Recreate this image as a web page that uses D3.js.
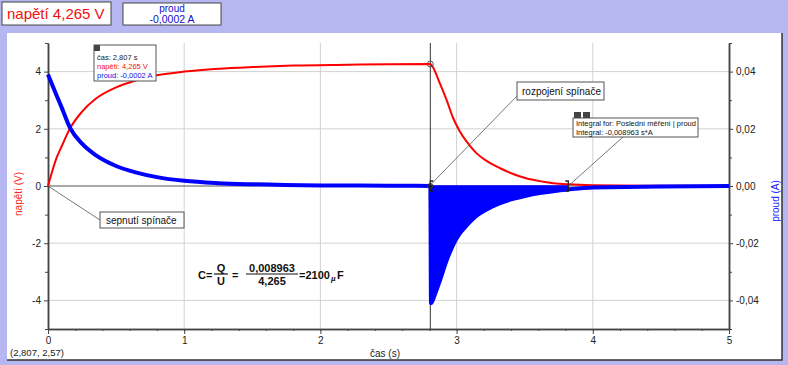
<!DOCTYPE html>
<html>
<head>
<meta charset="utf-8">
<script src="https://cdn.jsdelivr.net/npm/d3@7"></script>
<style>
body { margin:0; background:#b6b6f0; }
svg { display:block; font-family:"Liberation Sans", Arial, sans-serif; }
</style>
</head>
<body>
<div id="viz"></div>
<script>
// napeti (V) pri nabijeni a vybijeni
var tCharge = [0, 0.03, 0.06, 0.1, 0.16, 0.25, 0.35, 0.5, 0.65, 0.8, 1.0, 1.25, 1.5, 1.8, 2.2, 2.5, 2.807];
var uCharge = [0, 0.5, 0.95, 1.38, 2.0, 2.6, 3.05, 3.45, 3.7, 3.87, 4.0, 4.1, 4.16, 4.21, 4.24, 4.26, 4.265];
var tDischarge = [2.807, 2.82, 2.878, 2.927, 2.976, 3.025, 3.074, 3.147, 3.22, 3.32, 3.415, 3.51, 3.61, 3.71, 3.82, 4.0, 4.5, 5.0];
var uDischarge = [4.265, 4.2, 3.58, 3.0, 2.36, 1.9, 1.55, 1.14, 0.88, 0.62, 0.42, 0.27, 0.17, 0.1, 0.06, 0.03, 0.01, 0.0];

// proud (A)
var tCurA = [0, 0.03, 0.06, 0.1, 0.16, 0.25, 0.35, 0.5, 0.65, 0.8, 1.0, 1.25, 1.5, 2.0, 2.5, 2.807];
var iCurA = [0.039, 0.0355, 0.032, 0.0275, 0.0205, 0.0148, 0.0108, 0.007, 0.0047, 0.0031, 0.0018, 0.001, 0.0006, 0.0002, 0.0001, 0];
var tCurB = [2.807, 2.812, 2.84, 2.878, 2.927, 2.976, 3.025, 3.074, 3.147, 3.22, 3.32, 3.415, 3.51, 3.61, 3.71, 3.82, 4.0, 4.5, 5.0];
var iCurB = [0, -0.041, -0.038, -0.033, -0.026, -0.0205, -0.0165, -0.0138, -0.0104, -0.0082, -0.006, -0.0045, -0.0034, -0.0025, -0.0018, -0.0012, -0.0005, -0.0002, 0];

var xTicks = [0, 1, 2, 3, 4, 5];
var uTicks = [-4, -2, 0, 2, 4];
var iTicks = [-0.04, -0.02, 0, 0.02, 0.04];
var cursorT = 2.807, integralEnd = 3.82;

var width = 788, height = 365;
var svg = d3.select("#viz").append("svg").attr("width", width).attr("height", height);

// hlavicka
svg.append("rect").attr("x",2).attr("y",2).attr("width",109).attr("height",23).attr("fill","#fff").attr("stroke","#444");
svg.append("text").attr("x",7).attr("y",19).attr("fill","#f01010").style("font-size","15px").text("napětí 4,265 V");
svg.append("rect").attr("x",123).attr("y",3).attr("width",98).attr("height",22).attr("fill","#fff").attr("stroke","#444");
svg.append("text").attr("x",172).attr("y",12).attr("text-anchor","middle").attr("fill","#1010d0").style("font-size","10px").text("proud");
svg.append("text").attr("x",172).attr("y",23).attr("text-anchor","middle").attr("fill","#1010d0").style("font-size","10.5px").text("-0,0002 A");

// panel
svg.append("rect").attr("x",7).attr("y",33).attr("width",775).attr("height",327).attr("fill","#fff");
svg.append("path").attr("d","M782,33V360H7").attr("fill","none").attr("stroke","#333").attr("stroke-width",1.5);

var x = d3.scaleLinear().domain([0,5]).range([48,729]);
var yU = d3.scaleLinear().domain([-5,5]).range([329,43]);
var yI = d3.scaleLinear().domain([-0.05,0.05]).range([329,43]);

// mrizka
svg.selectAll("line.vgrid").data([1,2,3,4]).enter().append("line")
	.attr("x1",d=>x(d)).attr("x2",d=>x(d)).attr("y1",43).attr("y2",329)
	.attr("stroke","#d2d2d2");
svg.selectAll("line.hgrid").data([-4,-2,2,4]).enter().append("line")
	.attr("x1",48).attr("x2",729).attr("y1",d=>yU(d)).attr("y2",d=>yU(d))
	.attr("stroke","#d2d2d2");

// osy
var fmtI = d=>d.toFixed(2).replace(".",",");
svg.append("g").attr("transform","translate(0,329)")
	.call(d3.axisBottom(x).tickValues(d3.range(0,5.01,0.2)).tickSize(2).tickSizeOuter(0).tickFormat(""));
svg.append("g").attr("transform","translate(0,329)")
	.call(d3.axisBottom(x).tickValues(xTicks).tickSize(5).tickSizeOuter(0).tickFormat(d=>String(d)));
svg.append("g").attr("transform","translate(48,0)")
	.call(d3.axisLeft(yU).tickValues([-5,-3,-1,1,3,5]).tickSize(3).tickSizeOuter(0).tickFormat(""));
svg.append("g").attr("transform","translate(48,0)")
	.call(d3.axisLeft(yU).tickValues(uTicks).tickSize(4).tickSizeOuter(0).tickFormat(d=>String(d)));
svg.append("g").attr("transform","translate(729,0)")
	.call(d3.axisRight(yI).tickValues([-0.05,-0.03,-0.01,0.01,0.03,0.05]).tickSize(3).tickSizeOuter(0).tickFormat(""));
svg.append("g").attr("transform","translate(729,0)")
	.call(d3.axisRight(yI).tickValues(iTicks).tickSize(4).tickSizeOuter(0).tickFormat(fmtI));
svg.selectAll(".domain").attr("stroke","#444").attr("stroke-width",1.5);
svg.selectAll(".tick line").attr("stroke","#444");
svg.selectAll(".tick text").attr("fill","#222").style("font-size","10px").style("font-family","'Liberation Sans', Arial, sans-serif");

// nulova cara a kurzor
svg.append("line").attr("x1",48).attr("x2",729).attr("y1",yU(0)).attr("y2",yU(0)).attr("stroke","#555").attr("stroke-width",1.2);
svg.append("line").attr("x1",x(cursorT)).attr("x2",x(cursorT)).attr("y1",43).attr("y2",329).attr("stroke","#333");

// popisky os
svg.append("text").attr("transform","translate(22,194) rotate(-90)").attr("text-anchor","middle")
	.attr("fill","#ff2020").style("font-size","10px").text("napětí (V)");
svg.append("text").attr("transform","translate(779,201) rotate(-90)").attr("text-anchor","middle")
	.attr("fill","#2020ff").style("font-size","10px").text("proud (A)");
svg.append("text").attr("x",385).attr("y",357).attr("text-anchor","middle").attr("fill","#222").style("font-size","10px").text("čas (s)");
svg.append("text").attr("x",10).attr("y",356).attr("fill","#222").style("font-size","9.5px").text("(2,807, 2,57)");

// data
var redPts = tCharge.map((t,i)=>[t,uCharge[i]]).concat(tDischarge.slice(1).map((t,i)=>[t,uDischarge[i+1]]));
var bluePts = tCurA.map((t,i)=>[t,iCurA[i]]).concat(tCurB.slice(1).map((t,i)=>[t,iCurB[i+1]]));
var fillPts = tCurB.map((t,i)=>[t,iCurB[i]]).filter(d=>d[0]<=integralEnd);

svg.append("path").datum(fillPts)
	.attr("d",d3.area().x(d=>x(d[0])).y0(yI(0)).y1(d=>yI(d[1])).curve(d3.curveMonotoneX))
	.attr("fill","#0000ff").attr("stroke","#0000ff").attr("stroke-width",1.5);

svg.append("path").datum(redPts)
	.attr("d",d3.line().x(d=>x(d[0])).y(d=>yU(d[1])).curve(d3.curveMonotoneX))
	.attr("fill","none").attr("stroke","#ff0000").attr("stroke-width",2);

svg.append("path").datum(bluePts)
	.attr("d",d3.line().x(d=>x(d[0])).y(d=>yI(d[1])).curve(d3.curveMonotoneX))
	.attr("fill","none").attr("stroke","#0000ff").attr("stroke-width",4);

// znacky kurzoru a integralu
svg.append("circle").attr("cx",x(cursorT)).attr("cy",yU(4.265)).attr("r",3).attr("fill","none").attr("stroke","#555");
svg.append("circle").attr("cx",x(cursorT)).attr("cy",yI(0)).attr("r",2.5).attr("fill","none").attr("stroke","#333");
svg.append("path").attr("d",`M${x(cursorT)+3},${yI(0)-5}h-3v10h3`).attr("fill","none").attr("stroke","#222").attr("stroke-width",1.3);
svg.append("path").attr("d",`M${x(integralEnd)-3},${yI(0)-5}h3v10h-3`).attr("fill","none").attr("stroke","#222").attr("stroke-width",1.3);

// odkazove cary
svg.append("line").attr("x1",x(0)).attr("y1",yU(0)).attr("x2",100).attr("y2",220).attr("stroke","#555").attr("stroke-width",0.8);
svg.append("line").attr("x1",x(cursorT)+1).attr("y1",yU(0)-2).attr("x2",517).attr("y2",96).attr("stroke","#555").attr("stroke-width",0.8);
svg.append("line").attr("x1",x(integralEnd)).attr("y1",yU(0)).attr("x2",623).attr("y2",137).attr("stroke","#555").attr("stroke-width",0.8);

function box(x0,y0,w,h){
	svg.append("rect").attr("x",x0).attr("y",y0).attr("width",w).attr("height",h).attr("fill","#fff").attr("stroke","#555");
}
box(100,212,84,16);
svg.append("text").attr("x",106).attr("y",224).attr("fill","#111").style("font-size","10px").text("sepnutí spínače");
box(517,82,87,18);
svg.append("text").attr("x",522).attr("y",95).attr("fill","#111").style("font-size","10px").text("rozpojení spínače");

// kurzorovy box
box(94,45,62,36);
svg.append("rect").attr("x",94).attr("y",45).attr("width",6).attr("height",6).attr("fill","#444");
svg.append("text").attr("x",97).attr("y",60).attr("fill","#222").style("font-size","7.5px").text("čas: 2,807 s");
svg.append("text").attr("x",97).attr("y",69).attr("fill","#f01010").style("font-size","7.5px").text("napětí: 4,265 V");
svg.append("text").attr("x",97).attr("y",78).attr("fill","#1010e0").style("font-size","7.5px").text("proud: -0,0002 A");

// integral box
box(573,118,125,19);
svg.append("rect").attr("x",574).attr("y",112).attr("width",7).attr("height",6).attr("fill","#444");
svg.append("rect").attr("x",583).attr("y",112).attr("width",7).attr("height",6).attr("fill","#444");
svg.append("text").attr("x",576).attr("y",126).attr("fill","#111").style("font-size","7.5px").text("Integral for: Poslední měření | proud");
svg.append("text").attr("x",576).attr("y",135).attr("fill","#111").style("font-size","7.5px").text("Integral: -0,008963 s*A");

// vzorec
var f = svg.append("g").style("font-size","11px").style("font-weight","bold").attr("fill","#111");
f.append("text").attr("x",198).attr("y",279).text("C=");
f.append("text").attr("x",221).attr("y",272).attr("text-anchor","middle").text("Q");
f.append("line").attr("x1",214).attr("x2",228).attr("y1",274).attr("y2",274).attr("stroke","#111").attr("stroke-width",1.2);
f.append("text").attr("x",221).attr("y",285).attr("text-anchor","middle").text("U");
f.append("text").attr("x",232).attr("y",279).text("=");
f.append("text").attr("x",272).attr("y",272).attr("text-anchor","middle").text("0,008963");
f.append("line").attr("x1",246).attr("x2",298).attr("y1",274).attr("y2",274).attr("stroke","#111").attr("stroke-width",1.2);
f.append("text").attr("x",272).attr("y",285).attr("text-anchor","middle").text("4,265");
f.append("text").attr("x",299).attr("y",279).text("=2100");
f.append("text").attr("x",331).attr("y",281).style("font-size","8px").style("font-style","italic").text("µ");
f.append("text").attr("x",337).attr("y",279).text("F");
</script>
</body>
</html>
